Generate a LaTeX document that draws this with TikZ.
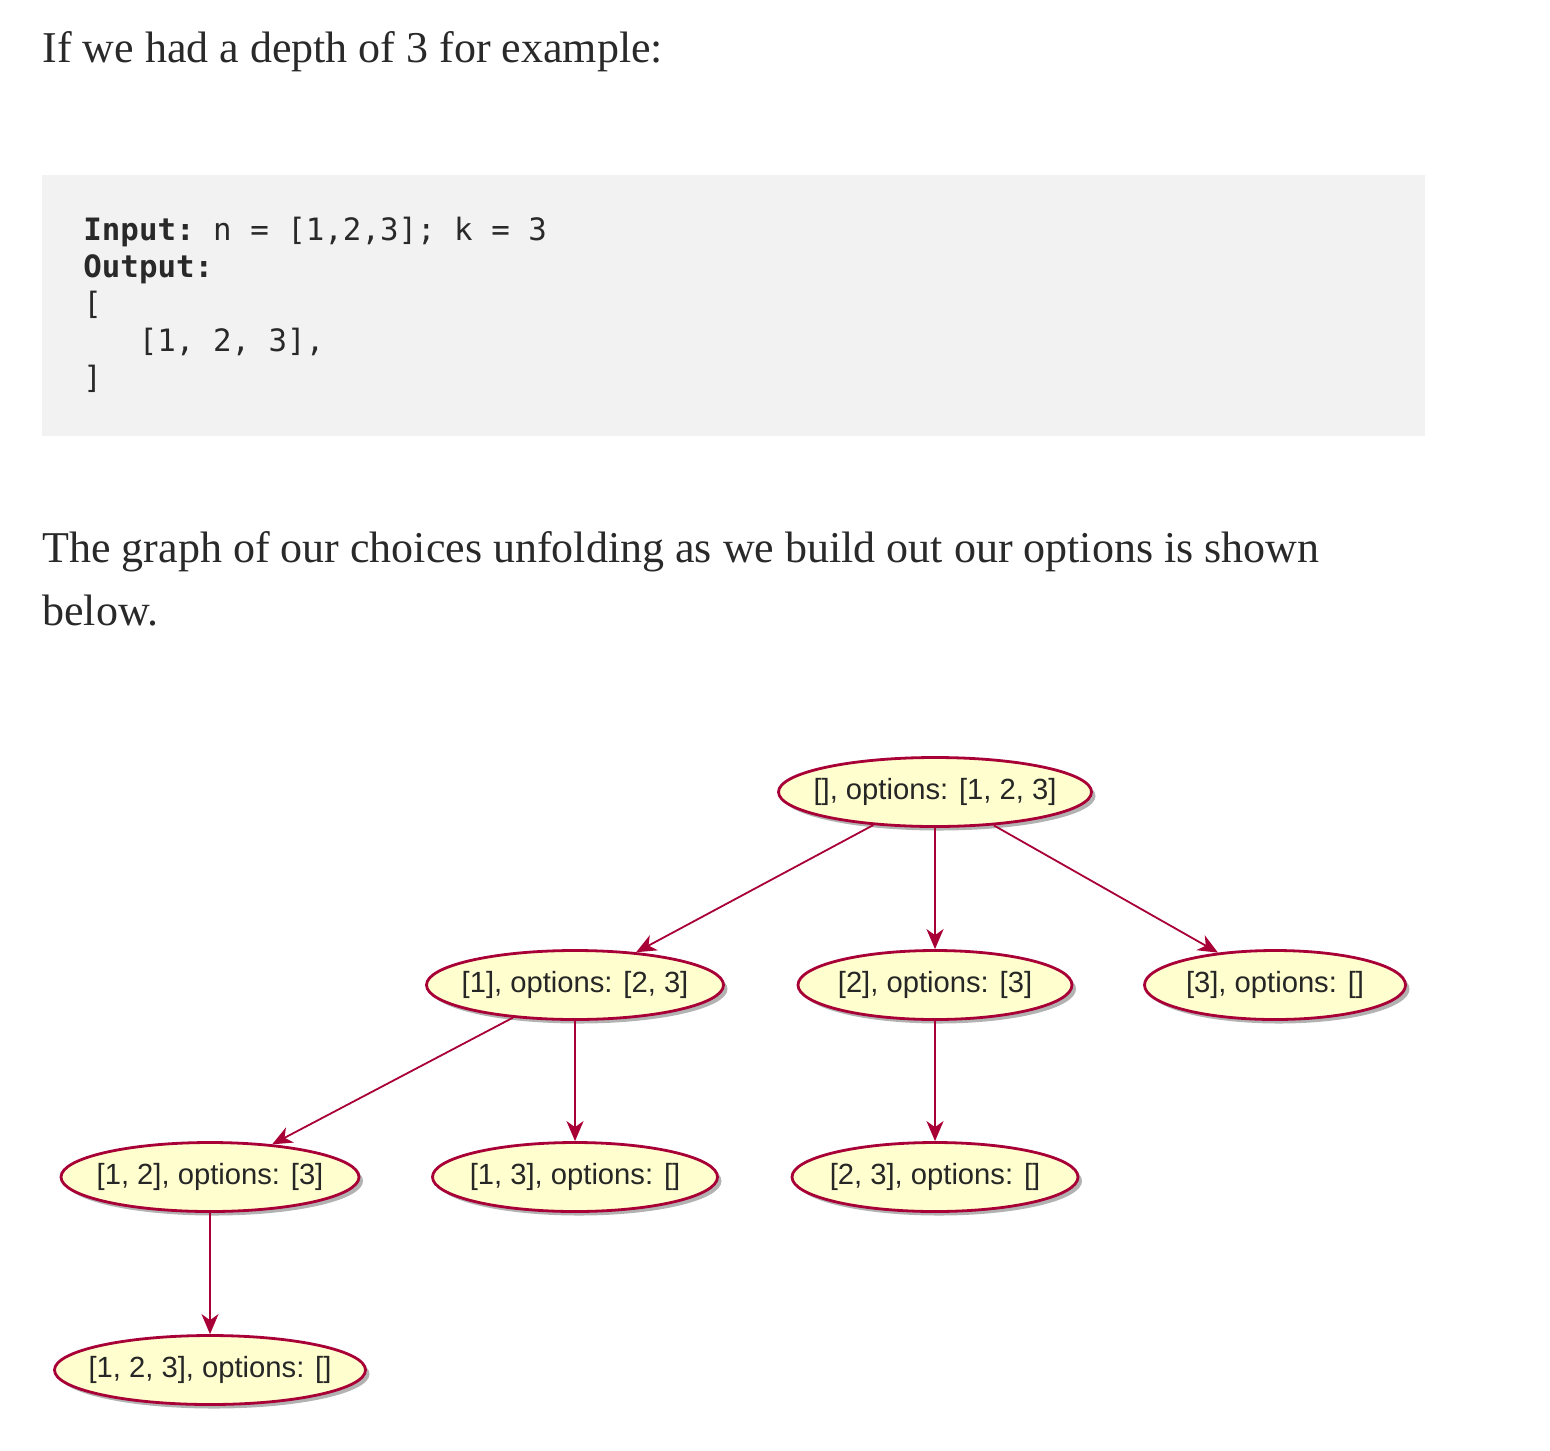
\documentclass[tikz,border=0pt]{standalone}
\usepackage{fontspec}
\setmainfont{Liberation Serif}
\setsansfont{Liberation Sans}
\setmonofont{DejaVu Sans Mono}
\usepackage{xcolor}
\usetikzlibrary{arrows.meta,shapes.geometric,shadows}
\definecolor{umlred}{HTML}{A80036}
\definecolor{umlfill}{HTML}{FEFECE}
\definecolor{codebg}{HTML}{F2F2F2}
\definecolor{ink}{HTML}{292929}

\begin{document}
\begin{tikzpicture}[
        x=0.5pt, y=-0.5pt,
        % Styles du texte
        para/.style={anchor=base west, inner sep=0pt, text=ink, font=\fontsize{22}{28}\selectfont},
        codeline/.style={anchor=base west, inner sep=0pt, text=ink, font=\ttfamily\fontsize{15.4}{18}\selectfont},
        % Styles des nœuds
        state/.style={ellipse, draw=umlred, line width=1.4pt, fill=umlfill, inner xsep=-40pt, minimum height=34.5pt, minimum width=#1, text=black!85, font=\sffamily\fontsize{14.6}{17}\selectfont, drop shadow={shadow xshift=2pt, shadow yshift=-2pt, fill=black, opacity=0.3}},
        % Style des flèches
        choice/.style={-{Stealth[length=10pt, width=8.5pt, inset=3pt]}, umlred, line width=0.9pt}
    ]
    \useasboundingbox (0,0) rectangle (1550,1450);

    % Texte
    \node[para] (intro) at (42,62) {If we had a depth of 3 for example:};

    % Bloc de code
    \fill[codebg] (42,175) rectangle (1425,436);
    \node[codeline] (input) at (83,240) {\textbf{Input:} n = [1,2,3]; k = 3};
    \node[codeline] (output) at (83,277) {\textbf{Output:}};
    \node[codeline] (open) at (83,314) {[};
    \node[codeline] (combo) at (138.5,351) {[1, 2, 3],};
    \node[codeline] (close) at (83,388) {]};

    \node[para] (lead1) at (42,562) {The graph of our choices unfolding as we build out our options is shown};
    \node[para] (lead2) at (42,625) {below.};

    % Racine
    \node[state=156.5pt] (root) at (935,792) {[], options: [1, 2, 3]};
    % Niveau 1
    \node[state=148.5pt] (n1) at (575,985) {[1], options: [2, 3]};
    \node[state=137pt] (n2) at (935,985) {[2], options: [3]};
    \node[state=130.5pt] (n3) at (1275,985) {[3], options: []};
    % Niveau 2
    \node[state=149pt] (n12) at (210,1177) {[1, 2], options: [3]};
    \node[state=142.5pt] (n13) at (575,1177) {[1, 3], options: []};
    \node[state=143pt] (n23) at (935,1177) {[2, 3], options: []};
    % Niveau 3
    \node[state=155.5pt] (n123) at (210,1370) {[1, 2, 3], options: []};

    % Arêtes
    \draw[choice] (root) -- (n1);
    \draw[choice] (root) -- (n2);
    \draw[choice] (root) -- (n3);
    \draw[choice] (n1) -- (n12);
    \draw[choice] (n1) -- (n13);
    \draw[choice] (n2) -- (n23);
    \draw[choice] (n12) -- (n123);

\end{tikzpicture}
\end{document}
